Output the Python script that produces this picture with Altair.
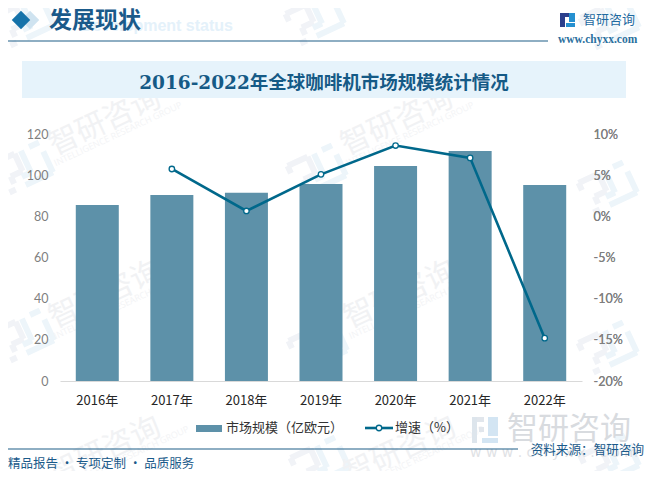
import altair as alt
import pandas as pd
import math

years = ["2016年", "2017年", "2018年", "2019年", "2020年", "2021年", "2022年"]
market = [85.5, 90.4, 91.4, 95.7, 104.5, 111.8, 95.2]
growth = [None, 5.75, 0.65, 5.1, 8.6, 7.1, -14.8]
title = "2016-2022年全球咖啡机市场规模统计情况"
BAR = "#5d91a9"
LINE = "#00688b"
NAVY = "#1a5a8a"
CJK = "Noto Sans CJK SC"
SERIF = "DejaVu Serif, Noto Sans CJK SC"
NUM = "Lato"

df = pd.DataFrame({"year": years, "market": market, "growth": growth})
W, H = 522, 247
L, T = 52, 126   # plot origin inside the chart
def X(px): return alt.value(px - 8 - L)
def Y(py): return alt.value(py - 8 - T)
dummy = alt.Chart(pd.DataFrame({"a": [0]}))

def text(s, px, py, size, color, font=CJK, weight="normal", align="left", angle=0):
    props = dict(text=s, fontSize=size, color=color, font=font, fontWeight=weight, align=align, baseline="middle")
    if angle: props["angle"] = angle
    return dummy.mark_text(**props).encode(x=X(px), y=Y(py))

def rect(x1, y1, x2, y2, color, opacity=1):
    return dummy.mark_rect(color=color, opacity=opacity).encode(x=X(x1), x2=X(x2), y=Y(y1), y2=Y(y2))

def rule(x1, y1, x2, y2, color, w=1, opacity=1):
    return dummy.mark_rule(color=color, strokeWidth=w, opacity=opacity).encode(x=X(x1), x2=X(x2), y=Y(y1), y2=Y(y2))

layers = []
# watermark logo: angular strokes, turned 25 degrees
A = math.radians(-25)
SEGS_DARK = [(-25,-16,-3,-16),(-3,-16,-3,3),(-3,3,-16,3),(-16,3,-16,11),(-25,-16,-25,-8),(-24,17,-17,17)]
SEGS_LIGHT = [(4,-16,4,8),(4,8,-6,8),(-6,17,24,17),(24,-6,24,17),(13,-16,24,-16)]
def logo(cx, cy):
    def p(a, b):
        return cx + a*math.cos(A) - b*math.sin(A), cy + a*math.sin(A) + b*math.cos(A)
    for segs, col in ((SEGS_DARK, "#f1f3f7"), (SEGS_LIGHT, "#edf5fa")):
        for a, b, c, d in segs:
            x1, y1 = p(a, b); x2, y2 = p(c, d)
            layers.append(rule(x1, y1, x2, y2, col, 6))

for cx, cy in [(25,20),(315,18),(610,22),(24,167),(317,170),(608,187),(25,335),(318,345),(608,347),(320,462),(610,460)]:
    logo(cx, cy)
for cx, cy in [(105,122),(397,122),(105,295),(400,295),(105,451),(400,451)]:
    layers.append(text("智研咨询", cx, cy, 30, "#f1f2f4", angle=335, align="center"))
for cx, cy in [(118,134),(410,134),(118,307),(413,307),(125,458),(420,458)]:
    layers.append(text("INTELLIGENCE RESEARCH GROUP", cx, cy, 9, "#f3f4f6", font="Open Sans", angle=335, align="center"))

# header
layers += [
    text("Development status", 233, 26, 16, "#e4f1fa", font="Liberation Sans", weight="bold", align="right"),
    dummy.mark_point(shape="diamond", size=340, filled=True, color="#cfe3f0", opacity=1).encode(x=X(30), y=Y(20)),
    dummy.mark_point(shape="diamond", size=340, filled=True, color="#1572a9", opacity=1).encode(x=X(21), y=Y(20)),
    text("发展现状", 49, 21, 23, NAVY, weight="bold"),
    rule(8, 41, 548, 41, "#1f5f88", 1.2),
    text("智研咨询", 583, 20, 13, "#1f6aa0"),
    text("www.chyxx.com", 558, 40, 11.5, "#2a6f9e", font="Liberation Serif", weight="bold"),
    rect(560, 13, 565, 27, "#2b3f8c"), rect(560, 13, 575, 17, "#2b3f8c"),
    rect(569, 13, 575, 22, "#2590d0"), rect(566, 23, 575, 27, "#2590d0"),
    rect(22, 61, 626, 98, "#e6f3fb"),
    text(title, 324, 83, 18.5, "#155a86", font=SERIF, weight="bold", align="center"),
]

# big logo lower right
layers += [
    rect(472, 417, 484, 422, "#e1e6ec"), rect(472, 417, 477, 443, "#dde5ec"), rect(479, 427, 484, 432, "#e1e6ec"),
    rect(488, 417, 498, 436, "#d3e5f3"), rect(482, 438, 498, 443, "#d3e5f3"),
    text("智研咨询", 507, 430, 31, "#d8dbdf"),
    text("w w w . c h y x x . c o m", 470, 453, 14, "#dfe2e5", font="DejaVu Sans"),
]

x = alt.X("year:N", sort=years, title=None,
          scale=alt.Scale(paddingInner=0.42, paddingOuter=0.21),
          axis=alt.Axis(labelAngle=0, labelColor="#262626", labelFontSize=13, labelFont=CJK, labelPadding=13,
                        domainColor="#d9d9d9", domainWidth=1, ticks=False, grid=False, zindex=1))
bars = alt.Chart(df).mark_bar(color=BAR, size=43).encode(
    x=x,
    y=alt.Y("market:Q", title=None, scale=alt.Scale(domain=[0, 120]),
            axis=alt.Axis(values=[0, 20, 40, 60, 80, 100, 120], labelColor="#7f7f7f", labelFontSize=12.5, labelFont=NUM,
                          labelPadding=12, domain=False, ticks=False, grid=False, zindex=1)),
)
y2 = alt.Y("growth:Q", title=None, scale=alt.Scale(domain=[-20, 10]),
           axis=alt.Axis(orient="right", values=[-20, -15, -10, -5, 0, 5, 10], labelExpr="datum.value + '%'",
                         labelColor="#7f7f7f", labelFontSize=12.5, labelFont=NUM, labelPadding=11,
                         domain=False, ticks=False, grid=False, zindex=1))
ld = df.dropna(subset=["growth"])
line = alt.Chart(ld).mark_line(color=LINE, strokeWidth=2.6).encode(x=alt.X("year:N", sort=years), y=y2)
pts = alt.Chart(ld).mark_point(filled=True, fill="white", stroke=LINE, strokeWidth=1.3, size=30, opacity=1).encode(
    x=alt.X("year:N", sort=years), y=y2)

# legend + footer
foot = [
    rect(196, 425, 222, 432, BAR),
    text("市场规模（亿欧元）", 226, 428, 13, "#333333"),
    rule(365, 428, 393, 428, LINE, 2.6),
    dummy.mark_point(filled=True, fill="white", stroke=LINE, strokeWidth=1.3, size=30, opacity=1).encode(x=X(379), y=Y(428)),
    text("增速（%）", 395, 428, 13, "#333333"),
    rule(8, 449, 518, 449, "#1f5f88", 1.2),
    text("资料来源：智研咨询", 644, 450, 12.6, NAVY, align="right"),
    text("精品报告 · 专项定制 · 品质服务", 8, 464, 12.5, NAVY),
]

main = alt.layer(bars, line, pts).resolve_scale(y="independent")
chart = alt.layer(*layers, main, *foot).resolve_scale(y="independent").properties(
    width=W, height=H,
    autosize=alt.AutoSizeParams(type="none"),
    padding={"left": L, "top": T, "right": 63, "bottom": 90},
    background="white",
).configure_view(stroke=None)
chart.save("out.html", embed_options={"renderer": "svg", "actions": False})
